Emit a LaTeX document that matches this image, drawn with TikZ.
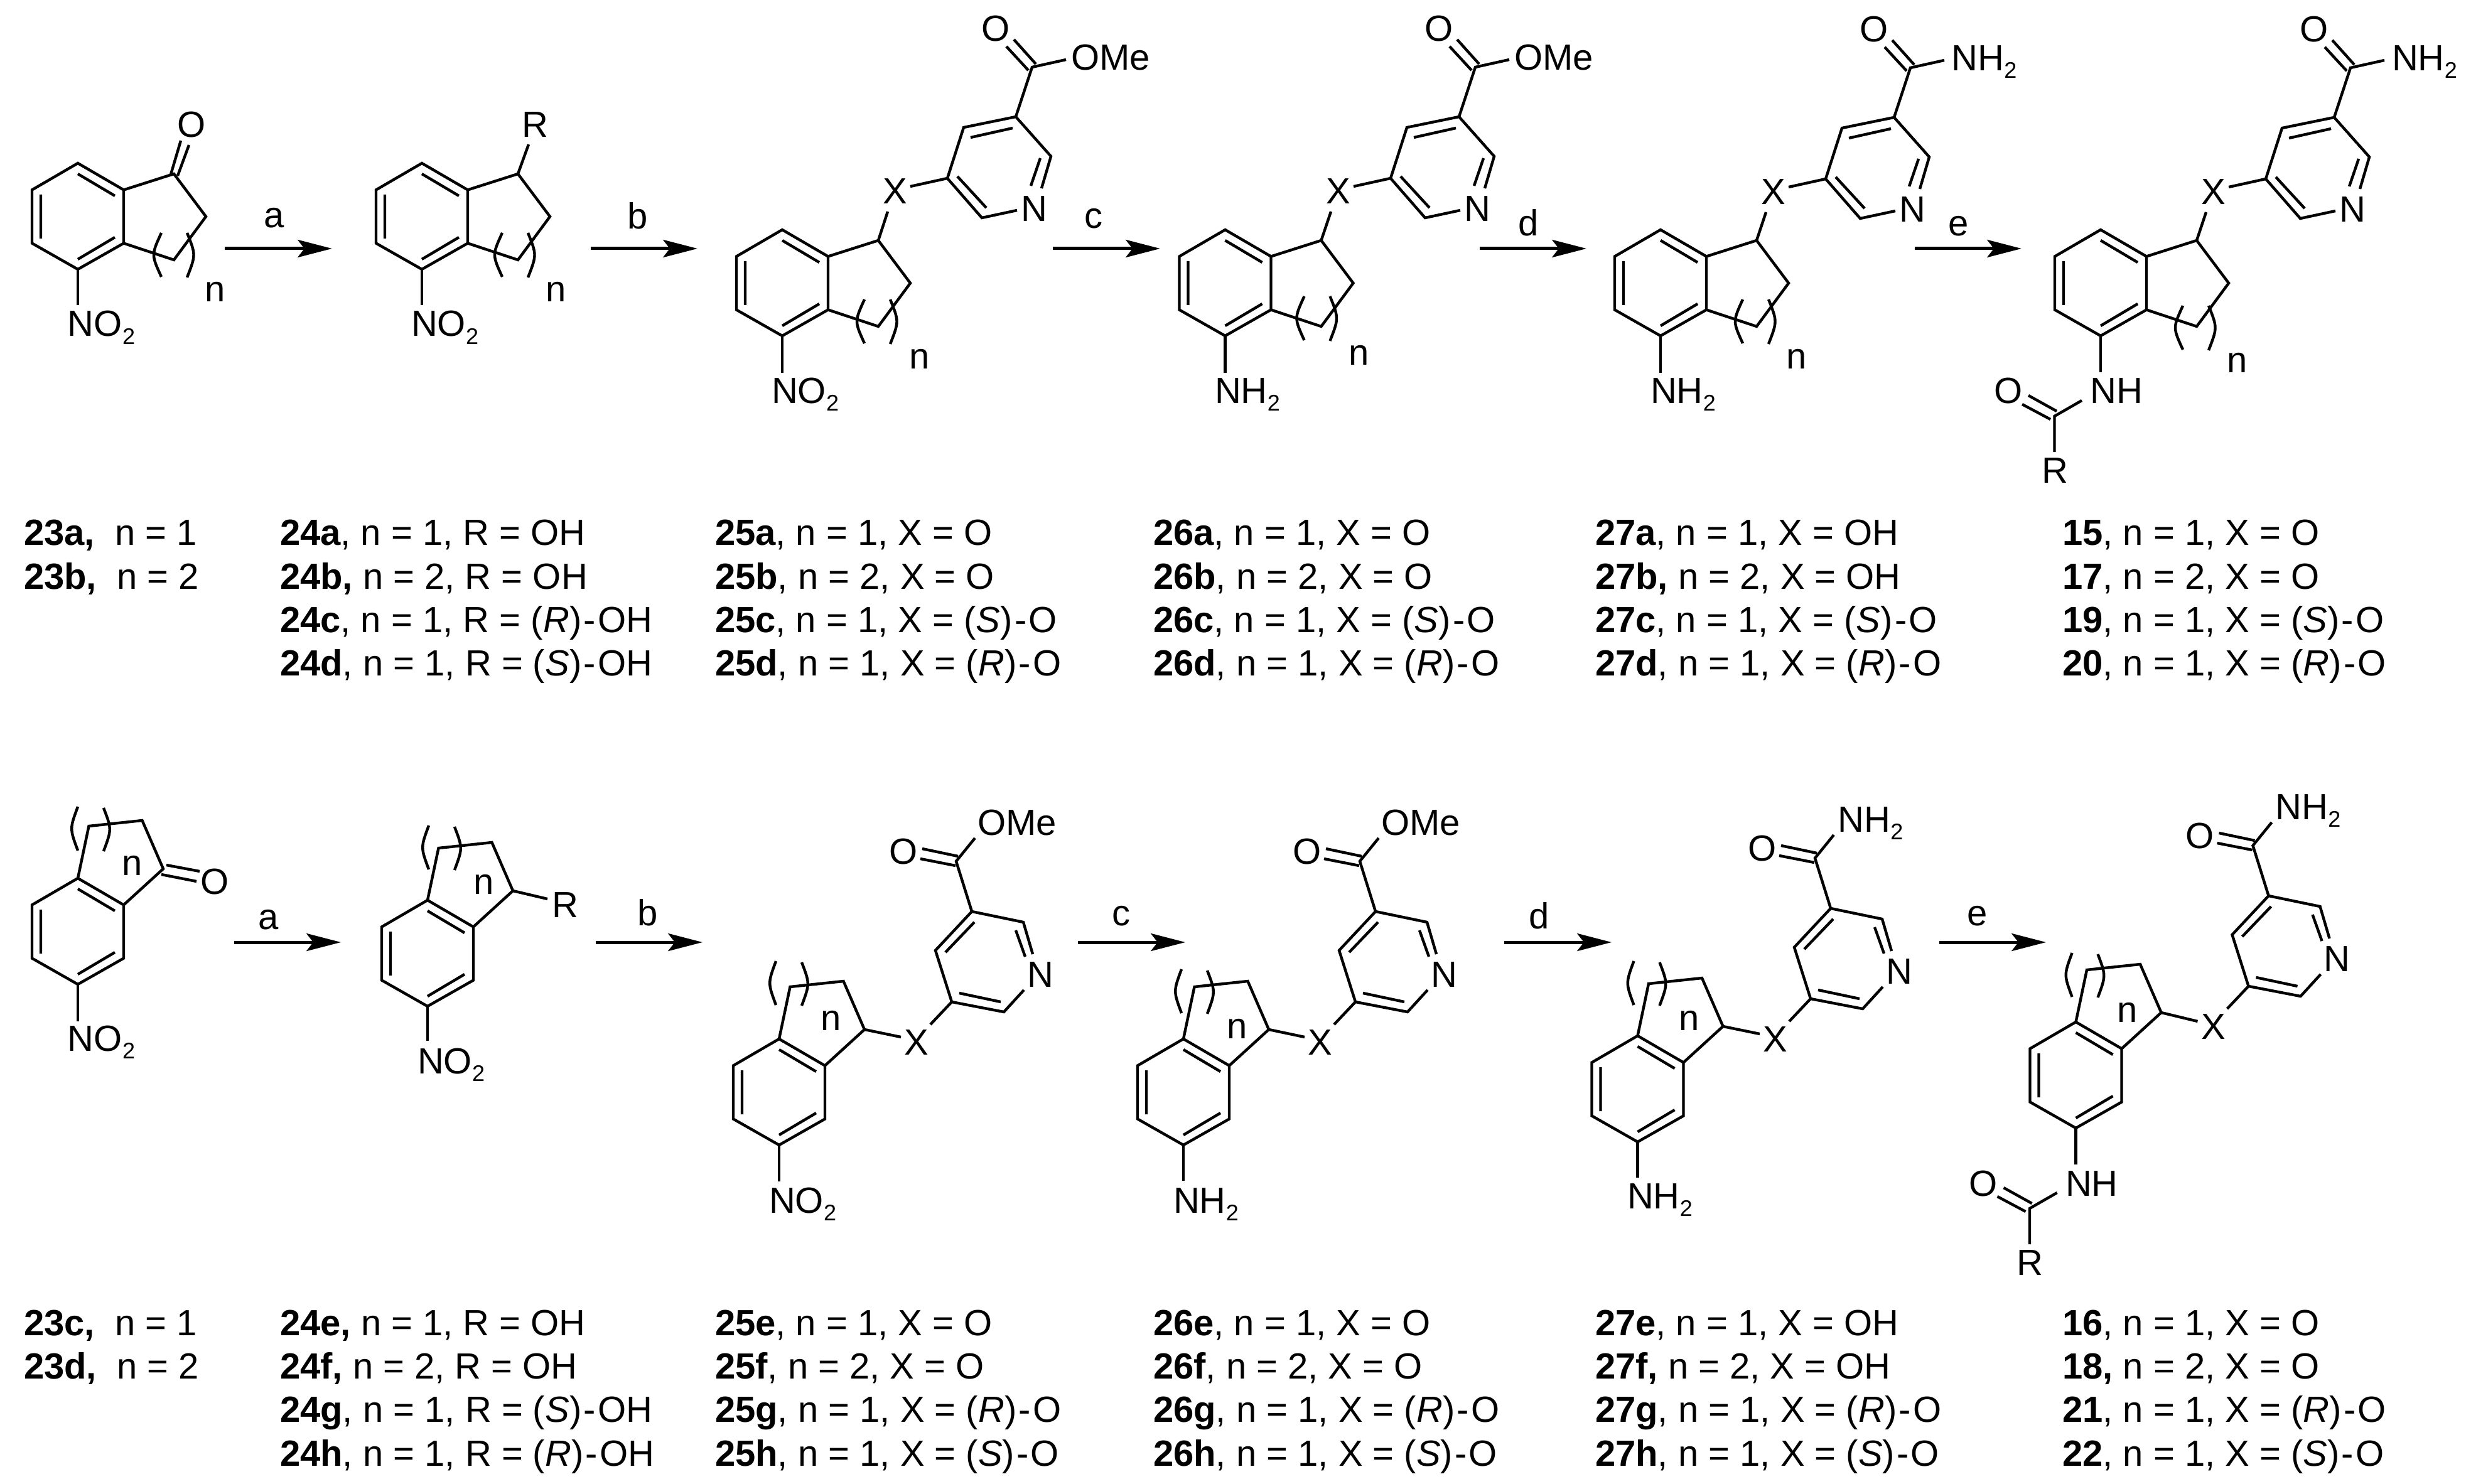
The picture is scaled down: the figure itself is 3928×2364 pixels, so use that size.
\documentclass[tikz,border=0pt]{standalone}
\usepackage{fontspec}
\setmainfont{Liberation Sans}
\usetikzlibrary{arrows.meta,calc}
\tikzset{
  bond/.style={line width=1.1pt,line cap=butt,line join=miter,black},
  rxn/.style={line width=1.25pt,black,-{Stealth[length=13.7pt,width=7pt,inset=2.7pt]}},
  atm/.style={inner sep=0pt,outer sep=0pt,font=\fontsize{14.5pt}{14.5pt}\selectfont,text=black},
  cmpd/.style={inner sep=0pt,outer sep=0pt,anchor=base west,font=\fontsize{14.5pt}{14.5pt}\selectfont,text=black}
}
\newcommand{\subtwo}{{\fontsize{9pt}{9pt}\selectfont\raisebox{-3pt}{2}}}
\newcommand{\hy}{\kern0.8pt-\kern0.8pt}
% aromatic ring: name, x, y of top vertex
\newcommand{\hexring}[3]{%
  \begin{scope}[shift={(#2,#3)}]
    \coordinate (#1T) at (0,0);
    \coordinate (#1UR) at (73,42.5);
    \coordinate (#1LR) at (73,127.5);
    \coordinate (#1B) at (0,169);
    \coordinate (#1LL) at (-73,127.5);
    \coordinate (#1UL) at (-73,42.5);
    \coordinate (#1i1) at (0,17);
    \coordinate (#1i2) at (59,52);
    \coordinate (#1i3) at (-59,50);
    \coordinate (#1i4) at (-59,120);
    \coordinate (#1i5) at (0,153);
    \coordinate (#1i6) at (59,118);
  \end{scope}
  \draw[bond] (#1T)--(#1UR)--(#1LR)--(#1B)--(#1LL)--(#1UL)--cycle;
  \draw[bond] (#1i1)--(#1i2) (#1i3)--(#1i4) (#1i5)--(#1i6);
}
% saturated ring, top row: name, Tx, Ty, paren dx, paren dy, n x, n y (relative to T)
\newcommand{\ringtop}[7]{%
  \begin{scope}[shift={(#2,#3)}]
    \coordinate (#1a) at (153,17);
    \coordinate (#1b) at (204,85);
    \coordinate (#1c) at (153,154);
    \coordinate (#1pa) at (#4+131,#5+111);
    \coordinate (#1pb) at (#4+131,#5+181);
    \coordinate (#1pc) at (#4+115,#5+146);
    \coordinate (#1qa) at (#4+172,#5+111);
    \coordinate (#1qb) at (#4+172,#5+182);
    \coordinate (#1qc) at (#4+186,#5+146);
    \node[atm,anchor=base] (#1n) at (#6,#7) {n};
  \end{scope}
  \draw[bond] (#1UR)--(#1a)--(#1b)--(#1c)--(#1LR);
  \draw[bond] (#1pa) .. controls (#1pc) .. (#1pb);
  \draw[bond] (#1qa) .. controls (#1qc) .. (#1qb);
}
% saturated ring, bottom row
\newcommand{\ringbot}[7]{%
  \begin{scope}[shift={(#2,#3)}]
    \coordinate (#1a) at (17.5,-83);
    \coordinate (#1b) at (102.5,-92);
    \coordinate (#1c) at (136,-15);
    \coordinate (#1pa) at (#4-5,#5-124);
    \coordinate (#1pb) at (#4-5,#5-54);
    \coordinate (#1pc) at (#4-18,#5-89);
    \coordinate (#1qa) at (#4+36,#5-122);
    \coordinate (#1qb) at (#4+36,#5-53);
    \coordinate (#1qc) at (#4+49,#5-88);
    \node[atm,anchor=base] (#1n) at (#6,#7) {n};
  \end{scope}
  \draw[bond] (#1T)--(#1a)--(#1b)--(#1c)--(#1UR);
  \draw[bond] (#1pa) .. controls (#1pc) .. (#1pb);
  \draw[bond] (#1qa) .. controls (#1qc) .. (#1qb);
}
% pyridine, top row: name, Px, Py, substituent text, text left
\newcommand{\pyrtop}[5]{%
  \begin{scope}[shift={(#2,#3)}]
    \coordinate (#1P) at (0,0);
    \coordinate (#1C4) at (-83,17);
    \coordinate (#1C5) at (-109,98);
    \coordinate (#1C6) at (-54,161);
    \coordinate (#1C2) at (56,63);
    \coordinate (#1Ns) at (41,114);
    \coordinate (#1Ne) at (2,149);
    \coordinate (#1j1) at (-93,95);
    \coordinate (#1j2) at (-47,145);
    \coordinate (#1j3) at (-72,33);
    \coordinate (#1j4) at (-5,18);
    \coordinate (#1j5) at (39,66);
    \coordinate (#1j6) at (24,110);
    \coordinate (#1CO) at (26,-79);
    \coordinate (#1d1) at (-15,-112);
    \coordinate (#1d2) at (20,-74);
    \coordinate (#1d3) at (-3,-123);
    \coordinate (#1d4) at (32,-84);
    \coordinate (#1se) at (80,-91);
    \coordinate (#1xa) at (-168,111);
    \coordinate (#1xb) at (-204,151);
    \node[atm,anchor=base] (#1N) at (29,167) {N};
    \node[atm,anchor=base] (#1X) at (-192.5,139) {X};
    \node[atm,anchor=base] (#1O) at (-32,-120) {O};
    \node[atm,anchor=base west] (#1S) at (#5,-74.5) {#4};
  \end{scope}
  \draw[bond] (#1Ne)--(#1C6)--(#1C5)--(#1C4)--(#1P)--(#1C2)--(#1Ns);
  \draw[bond] (#1j1)--(#1j2) (#1j3)--(#1j4) (#1j5)--(#1j6);
  \draw[bond] (#1P)--(#1CO)--(#1se);
  \draw[bond] (#1d1)--(#1d2) (#1d3)--(#1d4);
  \draw[bond] (#1xa)--(#1C5);
  \draw[bond] (#1a)--(#1xb);
}
% pyridine, bottom row
\newcommand{\pyrbot}[5]{%
  \begin{scope}[shift={(#2,#3)}]
    \coordinate (#1P) at (0,0);
    \coordinate (#1C4) at (-58,62);
    \coordinate (#1C5) at (-32,144);
    \coordinate (#1C6) at (51,160);
    \coordinate (#1C2) at (82,17);
    \coordinate (#1Ns) at (97,68);
    \coordinate (#1Ne) at (83,125);
    \coordinate (#1j1) at (-20,130);
    \coordinate (#1j2) at (46,144);
    \coordinate (#1j3) at (-42,65);
    \coordinate (#1j4) at (4,17);
    \coordinate (#1j5) at (70,30);
    \coordinate (#1j6) at (85,72);
    \coordinate (#1CO) at (-25,-80);
    \coordinate (#1d1) at (-79,-100);
    \coordinate (#1d2) at (-22,-88);
    \coordinate (#1d3) at (-82,-84);
    \coordinate (#1d4) at (-26,-73);
    \coordinate (#1se) at (5,-117);
    \coordinate (#1xa) at (-66,180);
    \coordinate (#1xb) at (-113,200);
    \node[atm,anchor=base] (#1N) at (109,120) {N};
    \node[atm,anchor=base] (#1X) at (-88,228) {X};
    \node[atm,anchor=base] (#1O) at (-109,-76) {O};
    \node[atm,anchor=base west] (#1S) at (#5,-121.5) {#4};
  \end{scope}
  \draw[bond] (#1Ne)--(#1C6)--(#1C5)--(#1C4)--(#1P)--(#1C2)--(#1Ns);
  \draw[bond] (#1j1)--(#1j2) (#1j3)--(#1j4) (#1j5)--(#1j6);
  \draw[bond] (#1P)--(#1CO)--(#1se);
  \draw[bond] (#1d1)--(#1d2) (#1d3)--(#1d4);
  \draw[bond] (#1xa)--(#1C5);
  \draw[bond] (#1c)--(#1xb);
}
% substituent on ring bottom vertex: name, text, text left abs, baseline abs, bond length
\newcommand{\hexsub}[5]{%
  \node[atm,anchor=base west] (#1sub) at (#3,#4) {#2};
  \coordinate (#1subb) at ($(#1B)+(0,#5)$);
  \draw[bond] (#1B)--(#1subb);
}
% amide: name
\newcommand{\amide}[1]{%
  \begin{scope}[shift={(#1B)}]
    \coordinate (#1ne) at (0,58);
    \node[atm,anchor=base west] (#1NH) at (-16.5,108) {NH};
    \coordinate (#1AC) at (-73.5,128);
    \coordinate (#1ns) at (-30,103);
    \coordinate (#1d1) at (-125,109);
    \coordinate (#1d2) at (-80,133);
    \coordinate (#1d3) at (-115,95);
    \coordinate (#1d4) at (-70,120);
    \node[atm,anchor=base] (#1AO) at (-147,108) {O};
    \coordinate (#1re) at (-73.5,185);
    \node[atm,anchor=base] (#1R) at (-73,234) {R};
  \end{scope}
  \draw[bond] (#1B)--(#1ne);
  \draw[bond] (#1ns)--(#1AC)--(#1re);
  \draw[bond] (#1d1)--(#1d2) (#1d3)--(#1d4);
}
\newcommand{\lbl}[4]{\node[cmpd] (l#1) at (#2,#3) {#4};}
\newcommand{\rxnarrow}[6]{%
  \coordinate (#1s) at (#2,#4);
  \coordinate (#1e) at (#3,#4);
  \draw[rxn] (#1s)--(#1e);
  \node[atm,anchor=base] (#1l) at (#5,#6) {#1};
}
\begin{document}
\begin{tikzpicture}[x=0.25pt,y=-0.25pt]
\useasboundingbox (0,0) rectangle (3928,2364);
% ---------- top row ----------
\hexring{ma}{124}{260}
\ringtop{ma}{124}{260}{2}{0}{219}{221}
\node[atm,anchor=base] (maO) at (305,219) {O};
\coordinate (mad1) at (272,278); \coordinate (mad2) at (288,224);
\coordinate (mad3) at (283,280); \coordinate (mad4) at (301,231);
\draw[bond] (mad1)--(mad2) (mad3)--(mad4);
\hexsub{ma}{NO\subtwo}{108}{536}{57}

\hexring{mb}{672}{260}
\ringtop{mb}{672}{260}{-3}{0}{214}{221}
\node[atm,anchor=base] (mbR) at (852,219) {R};
\coordinate (mbRe) at (842,230);
\draw[bond] (mba)--(mbRe);
\hexsub{mb}{NO\subtwo}{655}{536}{57}

\hexring{mc}{1246}{366}
\ringtop{mc}{1246}{366}{0}{0}{218.5}{221}
\pyrtop{mc}{1618}{186}{OMe}{88}
\hexsub{mc}{NO\subtwo}{1229}{643}{59}

\hexring{md}{1951.5}{366}
\ringtop{md}{1951.5}{366}{-5}{-5}{213}{216}
\pyrtop{md}{2324}{186}{OMe}{88}
\hexsub{md}{NH\subtwo}{1935}{643}{59}

\hexring{me}{2645}{366}
\ringtop{me}{2645}{366}{0}{0}{217}{221}
\pyrtop{me}{3017}{187}{NH\subtwo}{91.5}
\hexsub{me}{NH\subtwo}{2629}{643}{59}

\hexring{mf}{3346}{366}
\ringtop{mf}{3346}{366}{0}{10}{218}{228}
\pyrtop{mf}{3718}{187}{NH\subtwo}{92}
\amide{mf}

\rxnarrow{a}{358}{529}{396}{437}{363}
\rxnarrow{b}{941}{1111}{396}{1016}{365}
\rxnarrow{c}{1677}{1848}{396}{1742}{364}
\rxnarrow{d}{2357}{2527}{396}{2435}{376}
\rxnarrow{e}{3050}{3220}{396}{3120}{376}

% ---------- bottom row ----------
\hexring{na}{124}{1399}
\ringbot{na}{124}{1399}{5}{10}{87}{-5}
\node[atm,anchor=base] (naO) at (342,1424) {O};
\coordinate (nad1) at (265,1378); \coordinate (nad2) at (318,1388);
\coordinate (nad3) at (257,1393); \coordinate (nad4) at (313,1404);
\draw[bond] (nad1)--(nad2) (nad3)--(nad4);
\hexsub{na}{NO\subtwo}{108}{1674}{59}

\hexring{nb}{681}{1434}
\ringbot{nb}{681}{1434}{7}{5}{90}{-10}
\node[atm,anchor=base] (nbR) at (900,1461) {R};
\coordinate (nbRe) at (872,1432);
\draw[bond] (nbc)--(nbRe);
\hexsub{nb}{NO\subtwo}{665}{1710}{55}

\hexring{nc}{1241}{1655}
\ringbot{nc}{1241}{1655}{0}{0}{83}{-14}
\pyrbot{nc}{1548}{1452}{OMe}{9.5}
\hexsub{nc}{NO\subtwo}{1225}{1932}{58}

\hexring{nd}{1885}{1655}
\ringbot{nd}{1885}{1655}{2}{13}{86}{-1}
\pyrbot{nd}{2191}{1452}{OMe}{9.5}
\hexsub{nd}{NH\subtwo}{1869}{1932}{57}

\hexring{ne}{2608.5}{1650}
\ringbot{ne}{2608.5}{1650}{-1}{5}{82}{-9}
\pyrbot{ne}{2916}{1447}{NH\subtwo}{11.5}
\hexsub{ne}{NH\subtwo}{2592}{1925}{57}

\hexring{nf}{3306.5}{1628}
\ringbot{nf}{3306.5}{1628}{-1}{14}{82}{0}
\pyrbot{nf}{3613.5}{1427}{NH\subtwo}{11}
\amide{nf}

\rxnarrow{a}{373}{543}{1501}{428}{1480}
\rxnarrow{b}{949}{1119}{1501}{1032}{1474}
\rxnarrow{c}{1717}{1888}{1501}{1786}{1474}
\rxnarrow{d}{2396}{2567}{1501}{2452}{1479}
\rxnarrow{e}{3089}{3259}{1501}{3150}{1474}

% ---------- compound labels, top ----------
\lbl{23a}{38}{868}{\textbf{23a,}~~n = 1}
\lbl{23b}{38}{938}{\textbf{23b,}~~n = 2}
\lbl{24a}{446}{868}{\textbf{24a}, n = 1, R = OH}
\lbl{24b}{446}{938}{\textbf{24b,} n = 2, R = OH}
\lbl{24c}{446}{1007}{\textbf{24c}, n = 1, R = (\textit{R})\hy OH}
\lbl{24d}{446}{1076}{\textbf{24d}, n = 1, R = (\textit{S})\hy OH}
\lbl{25a}{1139}{868}{\textbf{25a}, n = 1, X = O}
\lbl{25b}{1139}{938}{\textbf{25b}, n = 2, X = O}
\lbl{25c}{1139}{1007}{\textbf{25c}, n = 1, X = (\textit{S})\hy O}
\lbl{25d}{1139}{1076}{\textbf{25d}, n = 1, X = (\textit{R})\hy O}
\lbl{26a}{1837}{868}{\textbf{26a}, n = 1, X = O}
\lbl{26b}{1837}{938}{\textbf{26b}, n = 2, X = O}
\lbl{26c}{1837}{1007}{\textbf{26c}, n = 1, X = (\textit{S})\hy O}
\lbl{26d}{1837}{1076}{\textbf{26d}, n = 1, X = (\textit{R})\hy O}
\lbl{27a}{2541}{868}{\textbf{27a}, n = 1, X = OH}
\lbl{27b}{2541}{938}{\textbf{27b,} n = 2, X = OH}
\lbl{27c}{2541}{1007}{\textbf{27c}, n = 1, X = (\textit{S})\hy O}
\lbl{27d}{2541}{1076}{\textbf{27d}, n = 1, X = (\textit{R})\hy O}
\lbl{15}{3285}{868}{\textbf{15}, n = 1, X = O}
\lbl{17}{3285}{938}{\textbf{17}, n = 2, X = O}
\lbl{19}{3285}{1007}{\textbf{19}, n = 1, X = (\textit{S})\hy O}
\lbl{20}{3285}{1076}{\textbf{20}, n = 1, X = (\textit{R})\hy O}
% ---------- compound labels, bottom ----------
\lbl{23c}{38}{2127}{\textbf{23c,}~~n = 1}
\lbl{23d}{38}{2196}{\textbf{23d,}~~n = 2}
\lbl{24e}{446}{2127}{\textbf{24e,} n = 1, R = OH}
\lbl{24f}{446}{2196}{\textbf{24f,} n = 2, R = OH}
\lbl{24g}{446}{2265}{\textbf{24g}, n = 1, R = (\textit{S})\hy OH}
\lbl{24h}{446}{2335}{\textbf{24h}, n = 1, R = (\textit{R})\hy OH}
\lbl{25e}{1139}{2127}{\textbf{25e}, n = 1, X = O}
\lbl{25f}{1139}{2196}{\textbf{25f}, n = 2, X = O}
\lbl{25g}{1139}{2265}{\textbf{25g}, n = 1, X = (\textit{R})\hy O}
\lbl{25h}{1139}{2335}{\textbf{25h}, n = 1, X = (\textit{S})\hy O}
\lbl{26e}{1837}{2127}{\textbf{26e}, n = 1, X = O}
\lbl{26f}{1837}{2196}{\textbf{26f}, n = 2, X = O}
\lbl{26g}{1837}{2265}{\textbf{26g}, n = 1, X = (\textit{R})\hy O}
\lbl{26h}{1837}{2335}{\textbf{26h}, n = 1, X = (\textit{S})\hy O}
\lbl{27e}{2541}{2127}{\textbf{27e}, n = 1, X = OH}
\lbl{27f}{2541}{2196}{\textbf{27f,} n = 2, X = OH}
\lbl{27g}{2541}{2265}{\textbf{27g}, n = 1, X = (\textit{R})\hy O}
\lbl{27h}{2541}{2335}{\textbf{27h}, n = 1, X = (\textit{S})\hy O}
\lbl{16}{3285}{2127}{\textbf{16}, n = 1, X = O}
\lbl{18}{3285}{2196}{\textbf{18,} n = 2, X = O}
\lbl{21}{3285}{2265}{\textbf{21}, n = 1, X = (\textit{R})\hy O}
\lbl{22}{3285}{2335}{\textbf{22}, n = 1, X = (\textit{S})\hy O}
\end{tikzpicture}
\end{document}
